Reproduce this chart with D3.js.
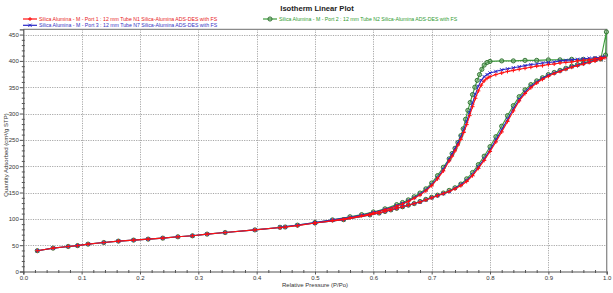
<!DOCTYPE html>
<html>
<head>
<meta charset="utf-8">
<script src="https://cdn.jsdelivr.net/npm/d3@7"></script>
<style>
  html, body { margin: 0; padding: 0; background: #fff; }
  svg { display: block; font-family: "Liberation Sans", Arial, sans-serif; }
</style>
</head>
<body>
<svg width="613" height="293"></svg>
<script>
// adsorption branch, relative pressure
const adsPressure = [0.024,0.051,0.077,0.093,0.111,0.138,0.163,0.189,0.214,0.239,0.265,0.290,0.315,0.346,0.397,0.449,0.500,0.549,0.594,
  0.61,0.62,0.63,0.64,0.65,0.66,0.67,0.68,0.69,0.70,0.71,0.72,0.73,0.74,0.75,0.76,0.77,0.78,0.79,0.80,
  0.81,0.82,0.83,0.84,0.85,0.86,0.87,0.88,0.89,0.90,0.91,0.92,0.93,0.94,0.95,0.96,0.97,0.98,0.99,0.997]

const redAds = [39.5,44.4,47.5,49.2,52.0,55.0,57.7,59.6,61.5,63.4,65.9,67.8,71.0,74.0,79.0,84.5,92.0,98.5,107.5,
  111,114,117,120,123,126,129,132,136,140,144,148,152,157,163,171,182,196,211,228,
  246,265,285,305,324,338,349,358,365,371,376,380,384,388,391,394,397,400,403,406]
const blueAds = [39.5,44.4,47.5,49.2,52.0,55.0,57.7,59.6,61.5,63.4,65.9,67.8,71.0,74.0,79.0,84.5,92.0,98.5,107.5,
  111,114,117,120,123,126,129,132,136,140,144,148,152,158,165,173,184,199,214,231,
  250,269,289,309,327,341,352,360,367,373,377,381,385,389,392,395,398,401,404,408]
const greenAdsPressure = adsPressure.slice(0, -1).concat([0.9995])
const greenAds = [39.5,44.4,47.5,49.2,52.0,55.0,57.7,59.6,61.5,63.4,65.9,67.8,71.0,74.0,79.0,84.5,92.0,98.5,107.5,
  111,114,117,120,123,126,129,133,137,141,145,149,154,159,166,176,188,203,219,237,
  256,276,296,315,332,345,355,362,368,374,378,382,386,390,393,396,399,402,404,455]

// desorption branch
const desPressure = [0.99,0.98,0.97,0.96,0.95,0.94,0.93,0.92,0.91,0.90,0.89,0.88,0.87,0.86,0.85,0.84,0.83,0.82,0.81,0.80,
  0.795,0.79,0.785,0.78,0.775,0.77,0.765,0.76,0.755,0.75,0.745,0.74,0.735,0.73,0.72,0.71,0.70,0.69,0.68,0.67,
  0.66,0.65,0.64,0.62,0.60,0.58,0.56,0.53,0.50,0.47,0.44]
const blueDes = [407,406,405,404,403,402,401,400,398,397,396,394,393,391,389,387,385,383,380,377,
  374,370,363,352,337,320,302,285,269,256,244,233,223,213,194,178,165,155,147,140,
  134,129,125,118,112,107,103,98,93,88,84]
const redDes = [406,404,402,401,400,398,397,396,394,393,391,390,388,386,384,382,380,377,374,370,
  367,362,354,343,329,313,296,279,264,251,240,229,219,210,191,176,163,153,145,139,
  133,128,124,117,111,106,102,97,92,87,83]
const greenDesPressure = [0.998,0.99,0.98,0.96,0.94,0.92,0.90,0.88,0.86,0.84,0.82,0.80,0.795,0.79,0.786,0.782,0.778,0.774,0.77,0.766,
  0.762,0.758,0.754,0.75,0.745,0.74,0.735,0.73,0.72,0.71,0.70,0.69,0.68,0.67,0.66,0.65,0.64,0.62,0.60,0.58,
  0.56,0.53,0.50,0.47,0.44]
const greenDes = [411,405,404,403,403,402,402,401,401,400,400,399,397,392,384,374,363,350,336,321,
  306,289,271,258,245,234,224,214,198,182,168,157,149,142,136,131,127,119,113,108,
  104,98,93,88,84]

const legendLabels = [
  "Silica Alumina - M - Port 1 : 12 mm Tube N1 Silica-Alumina ADS-DES with FS",
  "Silica Alumina - M - Port 3 : 12 mm Tube N7 Silica-Alumina ADS-DES with FS",
  "Silica Alumina - M - Port 2 : 12 mm Tube N2 Silica-Alumina ADS-DES with FS"
]

const series = [
  {name: legendLabels[2], line: "#3c9c3c", text: "#2e9a2e", marker: "circle",
    ads: d3.zip(greenAdsPressure, greenAds), des: d3.zip(greenDesPressure, greenDes)},
  {name: legendLabels[1], line: "#2828c8", text: "#3434c4", marker: "x",
    ads: d3.zip(adsPressure, blueAds), des: d3.zip(desPressure, blueDes)},
  {name: legendLabels[0], line: "#ff1010", text: "#e82020", marker: "plus",
    ads: d3.zip(adsPressure, redAds), des: d3.zip(desPressure, redDes)}
]

const svg = d3.select("svg")
const plotLeft = 23.3, plotRight = 606.7, plotTop = 29.3, plotBottom = 271.5

const x = d3.scaleLinear().domain([0, 1]).range([plotLeft, plotRight])
const y = d3.scaleLinear().domain([0, 460]).range([plotBottom, plotTop])

// title
svg.append("text")
  .attr("x", 317).attr("y", 10.5)
  .attr("text-anchor", "middle")
  .attr("font-size", 7.6).attr("font-weight", "bold")
  .attr("fill", "#222")
  .text("Isotherm Linear Plot")

// grid
const grid = svg.append("g").attr("stroke", "#a8a8a8").attr("stroke-dasharray", "1.2,1.2").attr("stroke-width", 1)
grid.selectAll("line.h").data(d3.range(50, 460, 50)).enter().append("line")
  .attr("x1", plotLeft).attr("x2", plotRight)
  .attr("y1", d => Math.round(y(d)) + 0.5).attr("y2", d => Math.round(y(d)) + 0.5)
grid.selectAll("line.v").data(d3.range(1, 10).map(d => d / 10)).enter().append("line")
  .attr("y1", plotTop).attr("y2", plotBottom)
  .attr("x1", d => Math.round(x(d)) + 0.5).attr("x2", d => Math.round(x(d)) + 0.5)

// frame (top + right)
svg.append("path")
  .attr("d", `M${plotLeft},${plotTop}H${plotRight}V${plotBottom}`)
  .attr("fill", "none").attr("stroke", "#8a8a8a").attr("stroke-width", 1.3)

// axes
const yAxis = svg.append("g").attr("transform", `translate(${plotLeft},0)`)
  .call(d3.axisLeft(y).tickValues(d3.range(0, 451, 50)).tickSize(3.5).tickPadding(1))
const yMinor = svg.append("g").attr("transform", `translate(${plotLeft},0)`)
  .call(d3.axisLeft(y).tickValues(d3.range(10, 460, 10).filter(d => d % 50)).tickSize(1.5).tickFormat(""))
yMinor.selectAll("line").attr("x1", 1.5)

const xAxis = svg.append("g").attr("transform", `translate(0,${plotBottom})`)
  .call(d3.axisBottom(x).tickValues(d3.range(0, 11).map(d => d / 10)).tickFormat(d3.format(".1f")).tickSize(3).tickPadding(1.5))
const xMinor = svg.append("g").attr("transform", `translate(0,${plotBottom})`)
  .call(d3.axisBottom(x).tickValues(d3.range(1, 50).filter(d => d % 5).map(d => d / 50)).tickSize(1.5).tickFormat(""))
xMinor.selectAll("line").attr("y1", -1.5)

svg.selectAll(".domain").attr("stroke", "#555").attr("stroke-width", 1.2)
xMinor.select(".domain").remove()
yMinor.select(".domain").remove()
svg.selectAll(".tick line").attr("stroke", "#555")
svg.selectAll(".tick text").attr("font-size", 6).attr("fill", "#333")
  .attr("font-family", "Liberation Sans, Arial, sans-serif")

// axis titles
svg.append("text")
  .attr("x", 315).attr("y", 287)
  .attr("text-anchor", "middle").attr("font-size", 6).attr("fill", "#333")
  .text("Relative Pressure (P/Po)")
svg.append("text")
  .attr("transform", "translate(7.5,155) rotate(-90)")
  .attr("text-anchor", "middle").attr("font-size", 6).attr("fill", "#333")
  .text("Quantity Adsorbed (cm³/g STP)")

// markers
function drawMarker(g, type, color, px, py) {
  if(type === 'circle') {
    g.append("circle").attr("cx", px).attr("cy", py).attr("r", 2.1)
      .attr("fill", "#6aa86a").attr("fill-opacity", 0.55)
      .attr("stroke", "#2a6e2a").attr("stroke-width", 0.9)
  } else if(type === 'plus') {
    g.append("path").attr("d", `M${px - 2},${py}H${px + 2}M${px},${py - 2}V${py + 2}`)
      .attr("stroke", color).attr("stroke-width", 1)
  } else {
    g.append("path").attr("d", `M${px - 1.6},${py - 1.6}L${px + 1.6},${py + 1.6}M${px - 1.6},${py + 1.6}L${px + 1.6},${py - 1.6}`)
      .attr("stroke", color).attr("stroke-width", 1)
  }
}

const line = d3.line().x(d => x(d[0])).y(d => y(d[1]))

const plot = svg.append("g")
series.forEach(s => {
  const g = plot.append("g")
  const path = s.ads.concat(s.des)
  g.append("path").datum(path)
    .attr("d", line).attr("fill", "none")
    .attr("stroke", s.line).attr("stroke-width", 1.1)
  path.forEach(d => drawMarker(g, s.marker, s.line, x(d[0]), y(d[1])))
})

// legend
const legendPos = [[23, 19], [23, 25.3], [263, 19]]
;[series[2], series[1], series[0]].forEach((s, i) => {
  const [lx, ly] = legendPos[i]
  const g = svg.append("g")
  g.append("line").attr("x1", lx).attr("x2", lx + 14).attr("y1", ly).attr("y2", ly)
    .attr("stroke", s.line).attr("stroke-width", 1.2)
  drawMarker(g, s.marker, s.line, lx + 7, ly)
  g.append("text").attr("x", lx + 16).attr("y", ly + 2)
    .attr("font-size", 5.2).attr("fill", s.text)
    .text(s.name)
})
</script>
</body>
</html>
